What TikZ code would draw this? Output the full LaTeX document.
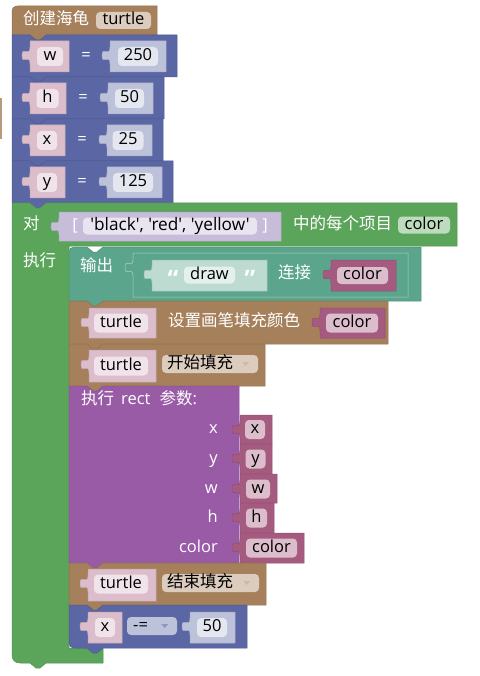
\documentclass[tikz,border=0pt]{standalone}
\usepackage{fontspec}
\setmainfont{Open Sans}[Ligatures=TeXOff]
\newfontfamily\cjk{Noto Sans CJK SC}

\definecolor{turtlebrown}{HTML}{A5805B}
\definecolor{varblue}{HTML}{5B67A5}
\definecolor{loopgreen}{HTML}{5BA55B}
\definecolor{textteal}{HTML}{5BA58C}
\definecolor{procpurple}{HTML}{995BA5}
\definecolor{varpink}{HTML}{A55B80}
\definecolor{listlav}{HTML}{745BA5}

\newcommand{\fsz}{\fontsize{16.5}{19}\selectfont}

\tikzset{
  blk/.style={fill=#1, draw=#1!88!black, line width=0.5pt},
  txt/.style={text=white, inner sep=0pt, font=\fsz, text height=12pt, text depth=3.5pt},
  fld/.style={fill=white, fill opacity=0.6, text opacity=1, text=black, rounded corners=4pt,
    inner sep=0pt, minimum height=19pt, font=\fsz, text height=12pt, text depth=3.5pt},
  quot/.style={text=white, inner sep=0pt, font=\fontsize{24}{24}\selectfont\bfseries},
  ddtri/.style={fill=#1},
}

% statement block: x1,y1,x2,y2,colour
\newcommand{\stmtblock}[5]{%
  \filldraw[blk=#5] (#1,#2) -- (#1+18,#2) -- (#1+24,#2+5) -- (#1+28,#2+5) -- (#1+34,#2) -- (#3,#2) -- (#3,#4)
    -- (#1+34,#4) -- (#1+28,#4+5) -- (#1+24,#4+5) -- (#1+18,#4) -- (#1,#4) -- cycle;}
% input piece with its tab on the left
\newcommand{\inpiece}[6][]{%
  \filldraw[blk=#6, #1] (#2,#3) -- (#4,#3) -- (#4,#5) -- (#2,#5) -- (#2,#3+23)
    .. controls (#2,#3+12) and (#2-8,#3+25) .. (#2-8,#3+14.5)
    .. controls (#2-8,#3+4) and (#2,#3+17) .. (#2,#3+6) -- cycle;}

\begin{document}
\begin{tikzpicture}[x=1pt, y=-1pt]
  \useasboundingbox (0,0) rectangle (479,676);
  \fill[turtlebrown!80!white] (0,98) rectangle (1.5,139);

  % create turtle
  \filldraw[blk=turtlebrown] (12,35) -- (12,12) .. controls (12,8) and (14,6) .. (18,6) -- (157,6) -- (157,35)
    -- (46,35) -- (40,40) -- (36,40) -- (30,35) -- cycle;
  \node[txt, anchor=west] (create) at (23,20.5) {\cjk 创建海龟};
  \node[fld, minimum width=55pt, minimum height=17pt] (tname) at (123.5,20.5) {turtle};

  % w, h, x, y
  \stmtblock{12}{35}{177}{77}{varblue}
  \inpiece{30}{41}{69}{72}{varpink!40!white}
  \node[fld, minimum width=26pt] (wvar) at (50,56.5) {w};
  \node[txt] (weq) at (86,56.5) {=};
  \inpiece{110}{41}{166}{72}{varblue!40!white}
  \node[fld, minimum width=40pt] (wval) at (138,56.5) {250};

  \stmtblock{12}{77}{164}{119}{varblue}
  \inpiece{30}{83}{66}{114}{varpink!40!white}
  \node[fld, minimum width=22pt] (hvar) at (47.5,98.5) {h};
  \node[txt] (heq) at (83,98.5) {=};
  \inpiece{108}{83}{153}{114}{varblue!40!white}
  \node[fld, minimum width=29pt] (hval) at (129.5,98.5) {50};

  \stmtblock{12}{119}{163}{161}{varblue}
  \inpiece{30}{125}{65}{156}{varpink!40!white}
  \node[fld, minimum width=20pt] (xvar) at (47,140.5) {x};
  \node[txt] (xeq) at (82,140.5) {=};
  \inpiece{107}{125}{152}{156}{varblue!40!white}
  \node[fld, minimum width=31pt] (xval) at (128,140.5) {25};

  \stmtblock{12}{161}{173}{203}{varblue}
  \inpiece{30}{167}{65}{198}{varpink!40!white}
  \node[fld, minimum width=20pt] (yvar) at (47,182.5) {y};
  \node[txt] (yeq) at (82,182.5) {=};
  \inpiece{107}{167}{162}{198}{varblue!40!white}
  \node[fld, minimum width=40pt] (yval) at (133,182.5) {125};

  % for each colour
  \filldraw[blk=loopgreen] (12,203) -- (30,203) -- (36,208) -- (40,208) -- (46,203) -- (457,203) -- (457,246)
    -- (69,246) -- (69,648) -- (103,648) -- (103,663) -- (46,663) -- (40,668) -- (36,668) -- (30,663)
    -- (20,663) .. controls (15,663) and (12,660) .. (12,655) -- cycle;
  \node[txt, anchor=west] (dui) at (23,225) {\cjk 对};
  \inpiece{59}{212}{281}{241}{listlav!40!white}
  \node[txt] (lbrack) at (75,226.5) {[};
  \node[fld, minimum width=174pt, minimum height=17pt, font=\fontsize{17.2}{19}\selectfont] (colours) at (170,226) {'black', 'red', 'yellow'};
  \node[txt] (rbrack) at (265,226.5) {]};
  \node[txt, anchor=west] (each) at (293,225) {\cjk 中的每个项目};
  \node[fld, minimum width=52pt, minimum height=17pt] (loopvar) at (424,225) {color};
  \node[txt, anchor=west] (dolbl) at (23,262) {\cjk 执行};

  % print
  \filldraw[blk=textteal] (69,252) .. controls (69,249) and (71,247) .. (74,247) -- (87,247) -- (93,252) -- (97,252)
    -- (103,247) -- (421,247) -- (421,301) -- (103,301) -- (97,306) -- (93,306) -- (87,301) -- (69,301) -- cycle;
  \node[txt, anchor=west] (print) at (80,267) {\cjk 输出};
  \inpiece[draw=textteal!50!white]{133}{253}{408}{297}{textteal}
  \inpiece{152}{260}{267}{291}{textteal!40!white}
  \node[quot] (lquote) at (173,279) {“};
  \node[fld, minimum width=51pt, minimum height=17pt] (drawtxt) at (209.5,275) {draw};
  \node[quot] (rquote) at (250,279) {”};
  \node[txt, anchor=west] (join) at (278,274) {\cjk 连接};
  \inpiece{331}{260}{396}{291}{varpink}
  \node[fld, minimum width=51pt, minimum height=17pt] (joinvar) at (362.5,275.5) {color};

  % fill colour
  \stmtblock{69}{301}{388}{344}{turtlebrown}
  \inpiece{89}{308}{156}{338}{varpink!40!white}
  \node[fld, minimum width=54pt] (tone) at (121,323) {turtle};
  \node[txt, anchor=west] (setfill) at (168,322.5) {\cjk 设置画笔填充颜色};
  \inpiece{320}{308}{385}{338}{varpink}
  \node[fld, minimum width=52pt] (fillvar) at (352,323) {color};

  % begin fill
  \stmtblock{69}{344}{265}{386}{turtlebrown}
  \inpiece{89}{350}{156}{382}{varpink!40!white}
  \node[fld, minimum width=54pt] (ttwo) at (121,366) {turtle};
  \node[fld, minimum width=96pt, minimum height=18pt] (begindd) at (210,364) {};
  \node[txt, text=black, anchor=west] (begintxt) at (167,364) {\cjk 开始填充};
  \fill[ddtri=turtlebrown!55!white] (begindd.east) ++(-16,-2) -- ++(7,0) -- ++(-3.5,4) -- cycle;

  % rect call
  \stmtblock{69}{386}{239}{563}{procpurple}
  \node[txt, anchor=west] (call) at (81,400) {{\cjk 执行}\hspace{7pt}rect\hspace{9pt}{\cjk 参数}:};
  \node[txt, anchor=east] (argx) at (218,429.5) {x};
  \node[txt, anchor=east] (argy) at (218,459) {y};
  \node[txt, anchor=east] (argw) at (218,489) {w};
  \node[txt, anchor=east] (argh) at (218,518) {h};
  \node[txt, anchor=east] (argc) at (218,548) {color};
  \inpiece{240}{415}{272}{444}{varpink}
  \node[fld, minimum width=20pt] (rx) at (255,429.5) {x};
  \inpiece{240}{444}{272}{474}{varpink}
  \node[fld, minimum width=20pt] (ry) at (255.5,459) {y};
  \inpiece{240}{474}{277}{503}{varpink}
  \node[fld, minimum width=24pt] (rw) at (258,489) {w};
  \inpiece{240}{503}{274}{533}{varpink}
  \node[fld, minimum width=21pt] (rh) at (256.5,518) {h};
  \inpiece{240}{533}{304}{563}{varpink}
  \node[fld, minimum width=51pt] (rc) at (271.5,548) {color};

  % end fill
  \stmtblock{69}{563}{266}{605}{turtlebrown}
  \inpiece{88}{569}{156}{601}{varpink!40!white}
  \node[fld, minimum width=54pt] (tthree) at (121,584) {turtle};
  \node[fld, minimum width=97pt, minimum height=18pt] (enddd) at (210.5,583) {};
  \node[txt, text=black, anchor=west] (endtxt) at (167,583) {\cjk 结束填充};
  \fill[ddtri=turtlebrown!55!white] (enddd.east) ++(-16,-2) -- ++(7,0) -- ++(-3.5,4) -- cycle;

  % x -= 50
  \filldraw[blk=varblue] (69,605) -- (87,605) -- (93,610) -- (97,610) -- (103,605) -- (247,605) -- (247,648)
    -- (103,648) -- (97,653) -- (93,653) -- (87,648) -- (75,648) .. controls (71,648) and (69,646) .. (69,642) -- cycle;
  \inpiece{88}{612}{122}{643}{varpink!40!white}
  \node[fld, minimum width=20pt] (xstep) at (105,627.5) {x};
  \node[fld, minimum width=50pt, minimum height=18pt] (opdd) at (152,626) {};
  \node[txt, text=black, anchor=west] (optxt) at (133,626) {-=};
  \fill[ddtri=varblue!70!white] (opdd.east) ++(-16,-2) -- ++(7,0) -- ++(-3.5,4) -- cycle;
  \inpiece{190}{612}{235}{643}{varblue!40!white}
  \node[fld, minimum width=30pt] (stepval) at (212,627.5) {50};
\end{tikzpicture}
\end{document}
